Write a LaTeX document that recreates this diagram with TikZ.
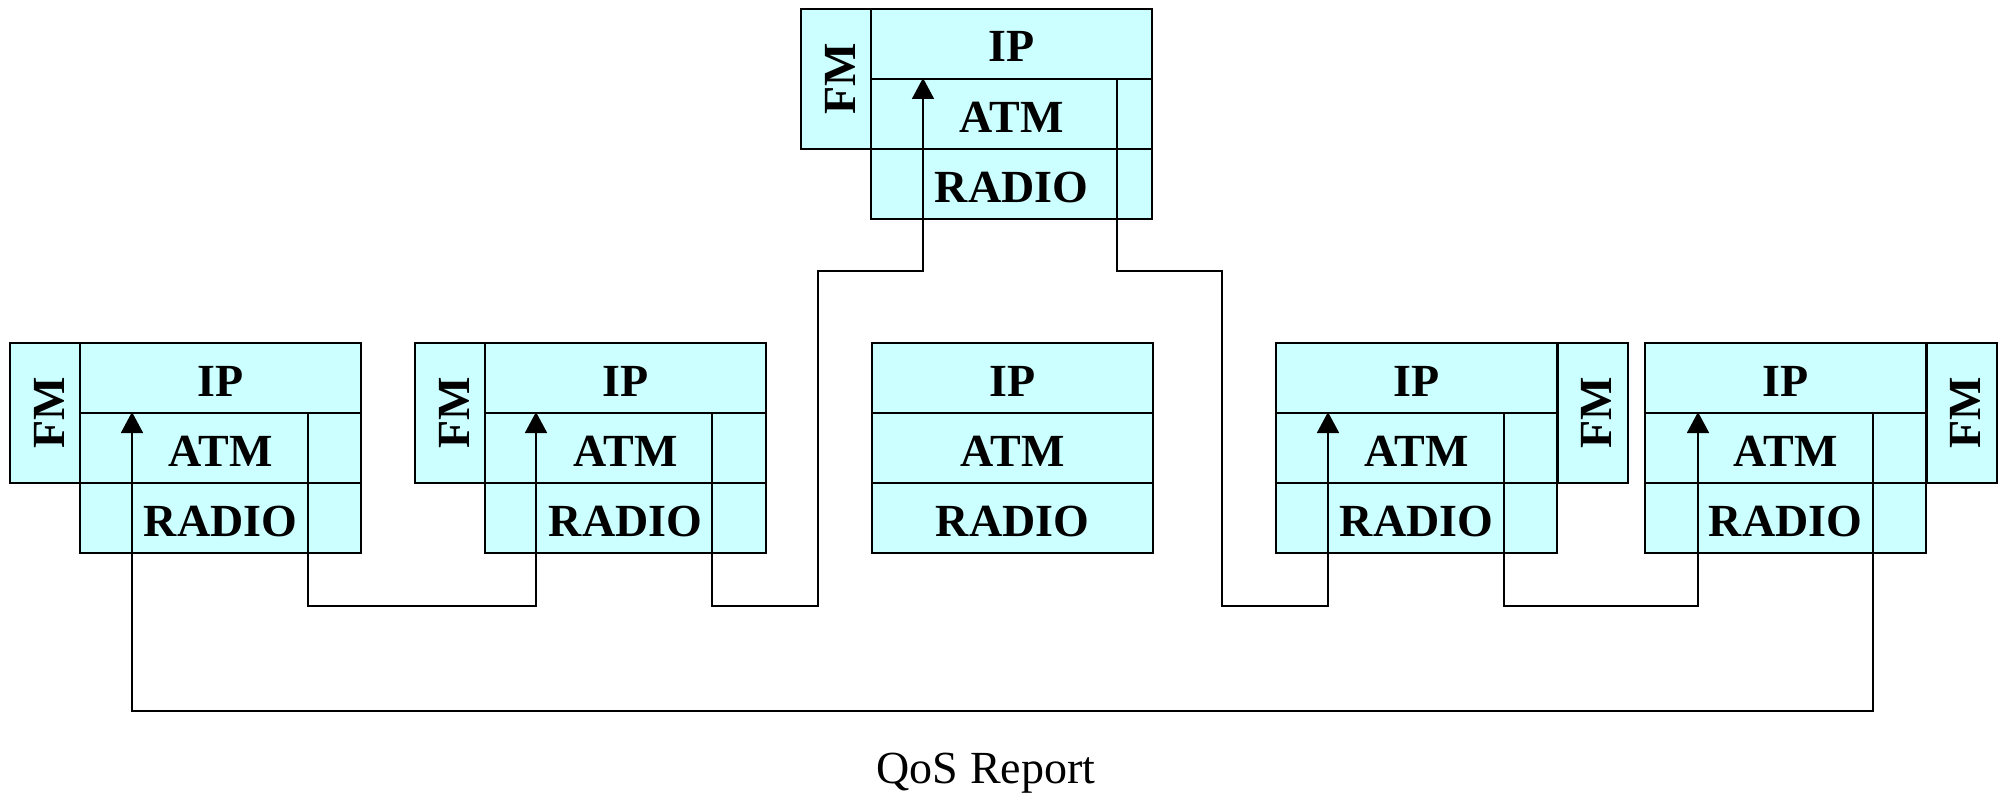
\documentclass[tikz,border=0pt]{standalone}
\usepackage{fontspec}
\setmainfont{Liberation Serif}
\usetikzlibrary{arrows.meta}

\definecolor{cellfill}{HTML}{CCFFFF}

\tikzset{
  layer/.style={draw=black, line width=2pt, fill=cellfill, rectangle,
    inner sep=0pt, minimum width=281pt, minimum height=70pt,
    font=\bfseries\fontsize{46}{46}\selectfont, text height=36pt, text depth=0pt},
  fmbox/.style={draw=black, line width=2pt, fill=cellfill, rectangle,
    inner sep=0pt, rotate=90, minimum width=140pt, minimum height=70pt,
    font=\bfseries\fontsize{46}{46}\selectfont, text height=38pt, text depth=0pt},
  link/.style={draw=black, line width=1.8pt},
  uplink/.style={link, -{Triangle[length=21pt,width=22pt]}},
  caption/.style={font=\fontsize{46}{46}\selectfont, inner sep=0pt}
}

% One protocol stack: IP / ATM / RADIO, left edge x0, top y0
\newcommand{\protostack}[3]{%
  \node[layer] (#1ip)    at (#2+140.5, #3+35)  {IP};
  \node[layer] (#1atm)   at (#2+140.5, #3+105) {ATM};
  \node[layer] (#1radio) at (#2+140.5, #3+175) {RADIO};
}
% FM side box, centred on (x, y)
\newcommand{\fmside}[3]{%
  \node[fmbox] (#1fm) at (#2, #3) {FM\hspace{10pt}};
}

\begin{document}
\begin{tikzpicture}[x=1pt, y=-1pt]
  \useasboundingbox (0,0) rectangle (2002,797);

  % stacks
  \protostack{s1}{80}{343}
  \fmside{s1}{45}{413}
  \protostack{s2}{485}{343}
  \fmside{s2}{450}{413}
  \protostack{t}{871}{9}
  \fmside{t}{836}{79}
  \protostack{m}{872}{343}
  \protostack{s4}{1276}{343}
  \fmside{s4}{1592.5}{413}
  \protostack{s5}{1645}{343}
  \fmside{s5}{1961.5}{413}

  % entry and exit points on the ATM layers
  \coordinate (s1in)  at ([xshift=53pt]s1atm.north west);
  \coordinate (s1out) at ([xshift=229pt]s1atm.north west);
  \coordinate (s2in)  at ([xshift=52pt]s2atm.north west);
  \coordinate (s2out) at ([xshift=228pt]s2atm.north west);
  \coordinate (tin)   at ([xshift=53pt]tatm.north west);
  \coordinate (tout)  at ([xshift=247pt]tatm.north west);
  \coordinate (s4in)  at ([xshift=53pt]s4atm.north west);
  \coordinate (s4out) at ([xshift=229pt]s4atm.north west);
  \coordinate (s5in)  at ([xshift=54pt]s5atm.north west);
  \coordinate (s5out) at ([xshift=229pt]s5atm.north west);

  % report chain
  \draw[uplink] (s1out) -- ++(0,194) -| (s2in);
  \draw[uplink] (s2out) -- ++(0,194) -- ++(106,0) -- ++(0,-335) -| (tin);
  \draw[uplink] (tout) -- ++(0,193) -- ++(105,0) -- ++(0,335) -| (s4in);
  \draw[uplink] (s4out) -- ++(0,194) -| (s5in);
  \draw[uplink] (s5out) -- ++(0,299) -| (s1in);

  \node[caption, anchor=base] (qos) at (986,783) {QoS Report};
\end{tikzpicture}
\end{document}
